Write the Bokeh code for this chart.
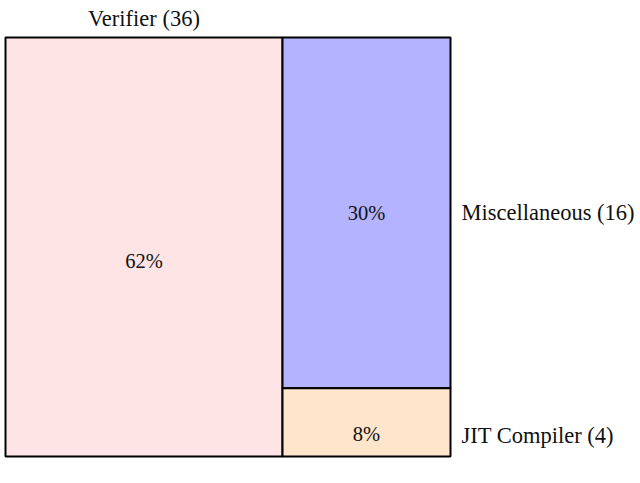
from bokeh.plotting import figure
from bokeh.models import ColumnDataSource, Range1d
from bokeh.core.properties import value
from bokeh.embed import file_html
from bokeh.resources import INLINE

# ---- data ----
categories = ["Verifier", "Miscellaneous", "JIT Compiler"]
counts = [36, 16, 4]
percent_labels = ["62%", "30%", "8%"]
area_shares = [62.25, 31.6, 6.15]   # relative areas as drawn
colors = ["#fee4e4", "#b3b3ff", "#ffe5cc"]

# ---- treemap layout (one column left, two stacked on right) ----
total = sum(area_shares)
left_w = area_shares[0] / total
right_total = area_shares[1] + area_shares[2]
split = area_shares[2] / right_total

lefts = [0.0, left_w, left_w]
rights = [left_w, 1.0, 1.0]
bottoms = [0.0, split, 0.0]
tops = [1.0, 1.0, split]
cx = [(l + r) / 2 for l, r in zip(lefts, rights)]
cy = [(b + t) / 2 for b, t in zip(bottoms, tops)]

src = ColumnDataSource(dict(left=lefts, right=rights, bottom=bottoms, top=tops,
                            color=colors, cx=cx, cy=cy, pct=percent_labels,
                            pct_dy=[14, 0, 12]))

W, H = 640, 470
BOX_L, BOX_R, BOX_T, BOX_B = 5, 450, 37, 456   # box placement in pixels
px_x = float(BOX_R - BOX_L)
px_y = float(BOX_B - BOX_T)
p = figure(width=W, height=H, output_backend="svg", toolbar_location=None,
           x_range=Range1d(-BOX_L / px_x, (W - BOX_L) / px_x),
           y_range=Range1d(-(H - BOX_B) / px_y, 1 + BOX_T / px_y),
           x_axis_location=None, y_axis_location=None, min_border=0,
           background_fill_color="white", border_fill_color="white")
p.grid.visible = False
p.outline_line_color = None

p.quad(left="left", right="right", bottom="bottom", top="top", source=src,
       fill_color="color", line_color="black", line_width=2)

font = value("Liberation Serif")
p.text(x="cx", y="cy", text="pct", source=src, y_offset="pct_dy",
       text_align="center", text_baseline="middle", text_font=font,
       text_font_size="20.5px", text_color="#111111")

# Category labels
top_lab = ColumnDataSource(dict(x=[cx[0]], y=[1.0],
                                t=[f"{categories[0]} ({counts[0]})"]))
p.text(x="x", y="y", text="t", source=top_lab, text_align="center",
       text_baseline="middle", y_offset=-19, text_font=font,
       text_font_size="22.5px", text_color="#111111")

side_lab = ColumnDataSource(dict(x=[1.0, 1.0], y=[cy[1], cy[2]],
                                 t=[f"{categories[i]} ({counts[i]})" for i in (1, 2)],
                                 dy=[0, 13]))
p.text(x="x", y="y", text="t", source=side_lab, x_offset=11, y_offset="dy",
       text_align="left", text_baseline="middle", text_font=font,
       text_font_size="22.5px", text_color="#111111")

open("out.html", "w").write(file_html(p, INLINE))
